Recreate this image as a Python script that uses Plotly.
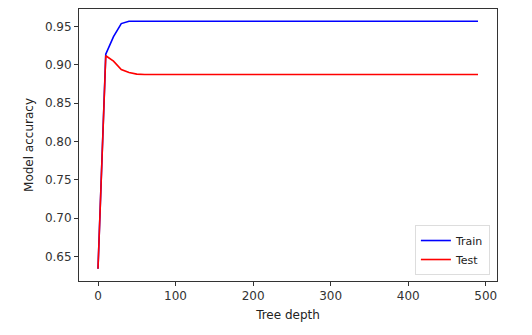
import plotly.graph_objects as go

depth = list(range(0, 500, 10))
train_head = [0.634, 0.914, 0.937, 0.954, 0.957]
test_head = [0.634, 0.912, 0.905, 0.894, 0.890, 0.888]
train = train_head + [0.957] * (len(depth) - len(train_head))
test = test_head + [0.8875] * (len(depth) - len(test_head))

font = "DejaVu Sans"
fig = go.Figure()
fig.add_trace(go.Scatter(x=depth, y=train, mode="lines", name="Train",
                         line=dict(color="#0000ff", width=1.6)))
fig.add_trace(go.Scatter(x=depth, y=test, mode="lines", name="Test",
                         line=dict(color="#ff0000", width=1.6)))

axis_common = dict(showline=True, linecolor="#333333", linewidth=1, mirror=True,
                   ticks="outside", ticklen=4, tickcolor="#333333",
                   showgrid=False, zeroline=False,
                   tickfont=dict(family=font, size=12, color="#333333"))
fig.update_xaxes(range=[-24.5, 514.5], tickvals=[0, 100, 200, 300, 400, 500],
                 title=dict(text="Tree depth", font=dict(family=font, size=12, color="#222222"), standoff=8),
                 **axis_common)
fig.update_yaxes(range=[0.618, 0.973], tickvals=[0.65, 0.70, 0.75, 0.80, 0.85, 0.90, 0.95],
                 tickformat=".2f",
                 title=dict(text="Model accuracy", font=dict(family=font, size=12, color="#222222"), standoff=8),
                 **axis_common)
fig.update_layout(
    width=532, height=335,
    margin=dict(l=79, r=35, t=9, b=54),
    paper_bgcolor="white", plot_bgcolor="white",
    showlegend=True,
    legend=dict(x=0.983, y=0.022, xanchor="right", yanchor="bottom",
                bordercolor="#dddddd", borderwidth=1, bgcolor="white",
                font=dict(family=font, size=11, color="#222222"),
                tracegroupgap=0, itemwidth=30),
)
fig.write_html("out.html")
